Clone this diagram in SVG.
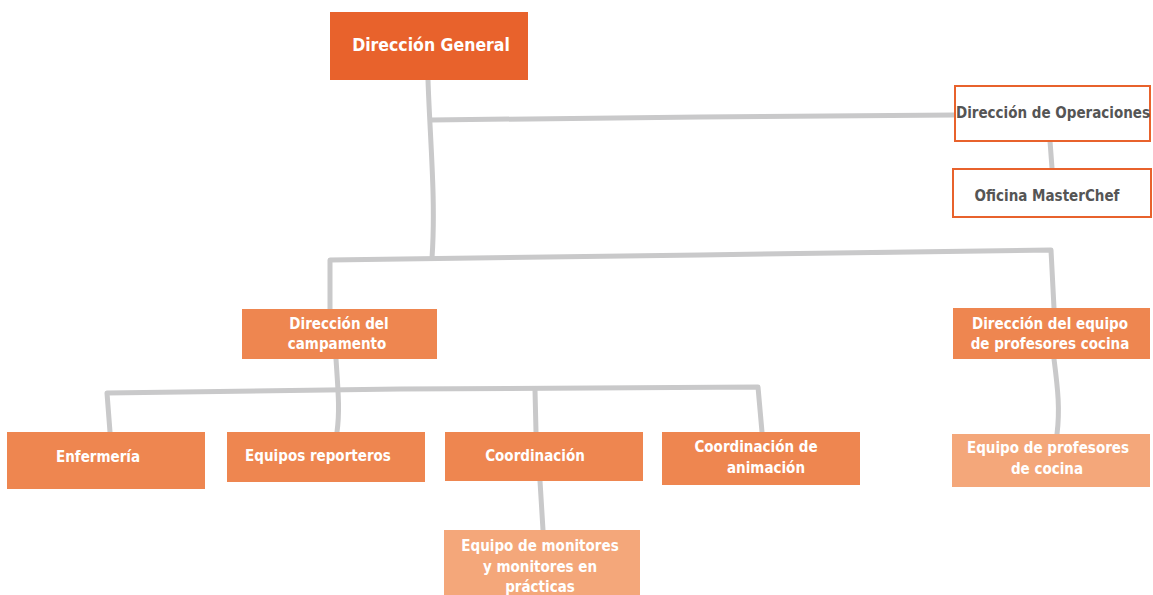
<svg xmlns="http://www.w3.org/2000/svg" width="1153" height="595" viewBox="0 0 1153 595">
<style>
.c{fill:none;stroke:#C9C9CA;stroke-width:5;stroke-linecap:round;stroke-linejoin:round}
text{font-family:"DejaVu Sans Condensed","DejaVu Sans","Liberation Sans",sans-serif;font-weight:bold;text-anchor:middle}
.w{fill:#fff;font-size:15px}
.g{fill:#555;font-size:15px}
.top{fill:#E8622C}
.mid{fill:#EE8650}
.low{fill:#F4A77A}
.out{fill:#fff;stroke:#E8622C;stroke-width:2}
</style>
<rect width="1153" height="595" fill="#fff"/>
<g id="connectors">
<path class="c" d="M428 80 C430 140 436 200 432 258"/>
<path class="c" d="M431 120 L700 117 L955 115"/>
<path class="c" d="M1050 141 L1052 168"/>
<path class="c" d="M330 309 L330 260 L700 255 L1051 250 L1054 308"/>
<path class="c" d="M336 359 C338 390 340 410 337 432"/>
<path class="c" d="M110 432 L107 393 L400 389 L758 387 L762 432"/>
<path class="c" d="M535 390 L536 432"/>
<path class="c" d="M540 481 L543 530"/>
<path class="c" d="M1054 359 C1058 390 1060 410 1057 434"/>
</g>
<g id="n-direccion-general">
<rect class="top" x="330" y="12" width="198" height="68"/>
<text class="w" x="431" y="51" style="font-size:17.5px">Dirección General</text>
</g>
<g id="n-direccion-operaciones">
<rect class="out" x="955" y="86" width="195" height="55"/>
<text class="g" x="1053" y="118">Dirección de Operaciones</text>
</g>
<g id="n-oficina-masterchef">
<rect class="out" x="953" y="169" width="198" height="48"/>
<text class="g" x="1047" y="201">Oficina MasterChef</text>
</g>
<g id="n-direccion-campamento">
<rect class="mid" x="242" y="309" width="195" height="50"/>
<text class="w" x="339" y="329">Dirección del</text>
<text class="w" x="337" y="349">campamento</text>
</g>
<g id="n-direccion-profesores">
<rect class="mid" x="953" y="308" width="197" height="51"/>
<text class="w" x="1050" y="329">Dirección del equipo</text>
<text class="w" x="1050" y="349">de profesores cocina</text>
</g>
<g id="n-enfermeria">
<rect class="mid" x="7" y="432" width="198" height="57"/>
<text class="w" x="98" y="462">Enfermería</text>
</g>
<g id="n-equipos-reporteros">
<rect class="mid" x="227" y="432" width="198" height="50"/>
<text class="w" x="318" y="461">Equipos reporteros</text>
</g>
<g id="n-coordinacion">
<rect class="mid" x="445" y="432" width="198" height="49"/>
<text class="w" x="535" y="461">Coordinación</text>
</g>
<g id="n-coordinacion-animacion">
<rect class="mid" x="662" y="432" width="198" height="53"/>
<text class="w" x="756" y="452">Coordinación de</text>
<text class="w" x="766" y="473">animación</text>
</g>
<g id="n-equipo-profesores">
<rect class="low" x="952" y="434" width="198" height="53"/>
<text class="w" x="1048" y="453">Equipo de profesores</text>
<text class="w" x="1047" y="474">de cocina</text>
</g>
<g id="n-equipo-monitores">
<rect class="low" x="444" y="530" width="196" height="70"/>
<text class="w" x="540" y="551">Equipo de monitores</text>
<text class="w" x="540" y="572">y monitores en</text>
<text class="w" x="540" y="592">prácticas</text>
</g>
</svg>
